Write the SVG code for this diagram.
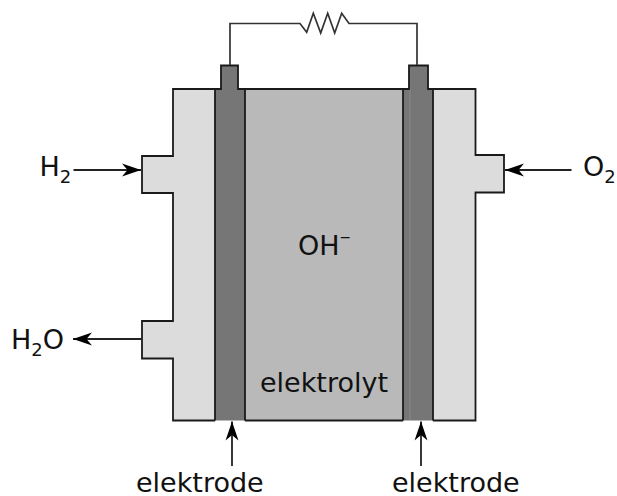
<svg xmlns="http://www.w3.org/2000/svg" width="617" height="496" viewBox="0 0 617 496">
<style>
.o{stroke:#1a1a1a;stroke-width:1.8;stroke-linejoin:miter;fill:none}
.w{stroke:#333;stroke-width:1.7;fill:none}
.a{stroke:#222;stroke-width:1.8;fill:none}
.h{fill:#dcdcdc}.e{fill:#767676}.l{fill:#b9b9b9}
text{font-family:"DejaVu Sans",sans-serif;font-size:27px;fill:#111}
.s{font-size:18px}
.m{font-size:14px}
</style>
<defs><marker id="m" markerUnits="userSpaceOnUse" markerWidth="20" markerHeight="14" refX="19" refY="7" orient="auto"><path d="M0 0.500L19 7L0 13.500L5.500 7Z" fill="#000"/></marker></defs>
<rect width="617" height="496" fill="#fff"/>
<g id="housing-left"><path class="h" d="M173 89H215V420.500H173V358.500H142V321H173V193H142V156H173Z"/><path class="o" d="M215 89H173V156H142V193H173V321H142V358.500H173V420.500H215"/></g>
<g id="housing-right"><path class="h" d="M433 89H475.500V155H504V192.500H475.500V420.500H433Z"/><path class="o" d="M433 89H475.500V155H504V192.500H475.500V420.500H433"/></g>
<g id="electrolyte"><rect class="l" x="245" y="89" width="158" height="331.500"/><path class="o" d="M245 89H408M245 420.500H403"/></g>
<g id="electrode-left"><path class="e" d="M221 65H238V89H245V420.500H215V89H221Z"/><path class="o" d="M215 420.500V89H221V65.500H238V89H245V420.500"/></g>
<g id="electrode-right"><path class="e" d="M409 65H428V89H433V420.500H403V89H409Z"/><path stroke="#888" stroke-width="1" d="M410 89V420"/><path class="o" d="M403 420.500V89H409V65.500H428V89H433V420.500"/></g>
<g id="connectors">
<path class="w" d="M230 65V23.500H300L306.700 32.300L313.300 13.300L320.700 33L327.700 13.300L334.700 33L341.700 13.300L349 23.500H417V65"/>
<path class="a" marker-end="url(#m)" d="M73.500 170H141"/>
<path class="a" marker-end="url(#m)" d="M571.500 170H505"/>
<path class="a" marker-end="url(#m)" d="M142 339H73"/>
<path class="a" marker-end="url(#m)" d="M232 466V421.500"/>
<path class="a" marker-end="url(#m)" d="M421 466V421.500"/>
</g>
<g id="labels">
<text x="39.500" y="176">H<tspan class="s" dy="7">2</tspan></text>
<text x="583" y="176">O<tspan class="s" dy="7">2</tspan></text>
<text x="11" y="349">H<tspan class="s" dy="7">2</tspan><tspan dy="-7">O</tspan></text>
<text x="298" y="255">OH<tspan class="m" dy="-13">−</tspan></text>
<text x="260" y="392">elektrolyt</text>
<text x="136" y="491.500">elektrode</text>
<text x="392" y="491.500">elektrode</text>
</g>
</svg>
